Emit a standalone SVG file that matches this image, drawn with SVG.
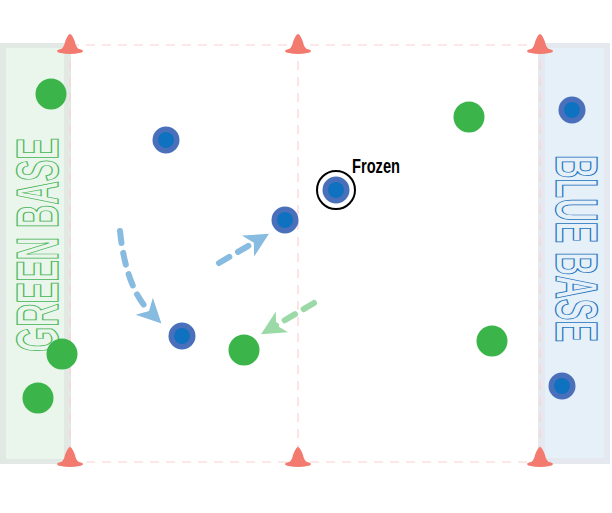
<svg xmlns="http://www.w3.org/2000/svg" width="612" height="513" viewBox="0 0 612 513">
<style>
.fl{stroke:#f9d3cf;stroke-width:1.2;stroke-dasharray:9 7;fill:none}
.cone{fill:#f27a6e}
.gp{fill:#3bb44a}
.bo{fill:#4a70bb}
.bi{fill:#0f72c0}
.arb{fill:none;stroke:#88bbe0;stroke-width:6;stroke-linecap:round;stroke-dasharray:12 10}
.arg{fill:none;stroke:#9bd9a6;stroke-width:6;stroke-linecap:round;stroke-dasharray:12 10}
.base{font-family:"Liberation Sans","DejaVu Sans",sans-serif;font-weight:bold;font-size:60px}
</style>
<defs>
<marker id="hb" markerUnits="userSpaceOnUse" markerWidth="27" markerHeight="27" viewBox="0 0 20 20" refX="6" refY="10" orient="auto">
<path d="M0,1 L18,10 L0,19 L5,10 Z" fill="#88bbe0"/>
</marker>
<marker id="hg" markerUnits="userSpaceOnUse" markerWidth="27" markerHeight="27" viewBox="0 0 20 20" refX="6" refY="10" orient="auto">
<path d="M0,1 L18,10 L0,19 L5,10 Z" fill="#9bd9a6"/>
</marker>
</defs>
<rect width="612" height="513" fill="#ffffff"/>
<g id="green-base">
<rect x="0" y="43" width="71" height="421" fill="#e2e9e5"/>
<rect x="6" y="48" width="58" height="411" fill="#eaf5eb"/>
<text class="base" transform="translate(58,352) rotate(-90)" textLength="214" lengthAdjust="spacingAndGlyphs" fill="#eaf5eb" stroke="#45b655" stroke-width="1.2">GREEN BASE</text>
</g>
<g id="blue-base">
<rect x="538" y="43" width="72" height="421" fill="#e5e8ee"/>
<rect x="545" y="48" width="59" height="410" fill="#e6f0f8"/>
<text class="base" transform="translate(556,155) rotate(90)" textLength="187" lengthAdjust="spacingAndGlyphs" fill="#e6f0f8" stroke="#1a73c0" stroke-width="1.2">BLUE BASE</text>
</g>
<g id="field-lines">
<line class="fl" x1="70" y1="45" x2="540" y2="45"/>
<line class="fl" x1="70" y1="462" x2="540" y2="462"/>
<line class="fl" x1="70" y1="45" x2="70" y2="462"/>
<line class="fl" x1="540" y1="45" x2="540" y2="462"/>
<line class="fl" x1="298" y1="45" x2="298" y2="462"/>
</g>
<g id="cones">
<g id="cone-tl"><path class="cone" d="M59,51 Q64,48 65,42 Q68,34 70,34 Q72,34 75,42 Q76,48 81,51 Z"/><ellipse class="cone" cx="70" cy="51" rx="13" ry="3"/></g>
<g id="cone-tm"><path class="cone" d="M287,51 Q292,48 293,42 Q296,34 298,34 Q300,34 303,42 Q304,48 309,51 Z"/><ellipse class="cone" cx="298" cy="51" rx="13" ry="3"/></g>
<g id="cone-tr"><path class="cone" d="M529,51 Q534,48 535,42 Q538,34 540,34 Q542,34 545,42 Q546,48 551,51 Z"/><ellipse class="cone" cx="540" cy="51" rx="13" ry="3"/></g>
<g id="cone-bl"><path class="cone" d="M59,464 Q64,461 65,455 Q68,447 70,447 Q72,447 75,455 Q76,461 81,464 Z"/><ellipse class="cone" cx="70" cy="464" rx="13" ry="3"/></g>
<g id="cone-bm"><path class="cone" d="M287,464 Q292,461 293,455 Q296,447 298,447 Q300,447 303,455 Q304,461 309,464 Z"/><ellipse class="cone" cx="298" cy="464" rx="13" ry="3"/></g>
<g id="cone-br"><path class="cone" d="M529,464 Q534,461 535,455 Q538,447 540,447 Q542,447 545,455 Q546,461 551,464 Z"/><ellipse class="cone" cx="540" cy="464" rx="13" ry="3"/></g>
</g>
<g id="connectors">
<path class="arb" d="M120,231 Q126,288 150,312" marker-end="url(#hb)"/>
<path class="arb" d="M219,263 L255,242" marker-end="url(#hb)"/>
<path class="arg" d="M314,303 L275,326" marker-end="url(#hg)"/>
</g>
<g id="green-players">
<circle id="g1" class="gp" cx="51" cy="94" r="15.5"/>
<circle id="g2" class="gp" cx="62" cy="354" r="15.5"/>
<circle id="g3" class="gp" cx="38" cy="398" r="15.5"/>
<circle id="g4" class="gp" cx="469" cy="117" r="15.5"/>
<circle id="g5" class="gp" cx="492" cy="341" r="15.5"/>
<circle id="g6" class="gp" cx="244" cy="350" r="15.5"/>
</g>
<g id="blue-players">
<g id="b1"><circle class="bo" cx="166" cy="140" r="13.5"/><circle class="bi" cx="166" cy="140" r="8"/></g>
<g id="b2"><circle class="bo" cx="285" cy="220" r="13.5"/><circle class="bi" cx="285" cy="220" r="8"/></g>
<g id="b3"><circle class="bo" cx="182" cy="336" r="13.5"/><circle class="bi" cx="182" cy="336" r="8"/></g>
<g id="b4"><circle class="bo" cx="572" cy="110" r="13.5"/><circle class="bi" cx="572" cy="110" r="8"/></g>
<g id="b5"><circle class="bo" cx="562" cy="386" r="13.5"/><circle class="bi" cx="562" cy="386" r="8"/></g>
<g id="frozen"><circle cx="336" cy="190" r="19" fill="none" stroke="#000" stroke-width="2"/><circle class="bo" cx="336" cy="190" r="13.5"/><circle class="bi" cx="336" cy="190" r="8"/>
<text x="352" y="173" font-family="'Liberation Sans','DejaVu Sans',sans-serif" font-weight="bold" font-size="21" textLength="48" lengthAdjust="spacingAndGlyphs" fill="#000">Frozen</text></g>
</g>
</svg>
